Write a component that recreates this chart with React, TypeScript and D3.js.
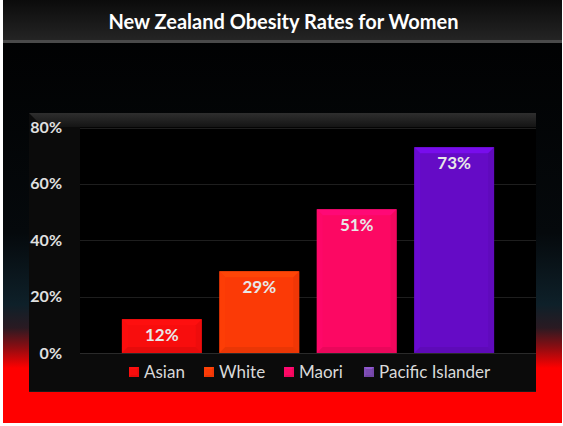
import React from "react";
import * as d3 from "d3";

const categories = ["Asian", "White", "Maori", "Pacific Islander"];
const values = [12, 29, 51, 73];
const colors = ["#f80d0d", "#fb3a06", "#fc0863", "#650bc6"];
const yTicks = [0, 20, 40, 60, 80];
const title = "New Zealand Obesity Rates for Women";

const W = 563;
const H = 426;
const FONT = "Lato, 'Open Sans', sans-serif";

export default function App() {
  const plot = { x0: 80, x1: 536, y0: 127.5, y1: 353 };
  const x = d3
    .scaleBand<string>()
    .domain(categories)
    .range([plot.x0, plot.x1])
    .paddingInner(0.18)
    .paddingOuter(0.43);
  const y = d3.scaleLinear().domain([0, 80]).range([plot.y1, plot.y0]);
  const bw = x.bandwidth();

  const lighten = (c: string, k: number) => d3.color(c)!.brighter(k).formatHex();
  const darken = (c: string, k: number) => d3.color(c)!.darker(k).formatHex();

  const bevelRect = (bx: number, by: number, w: number, h: number, c: string, b: number, key: string) => {
    const b2 = Math.min(b, h / 2);
    return (
      <g key={key}>
        <rect x={bx} y={by} width={w} height={h} fill={c} />
        <polygon
          points={`${bx},${by} ${bx + w},${by} ${bx + w - b2},${by + b2} ${bx + b2},${by + b2}`}
          fill={lighten(c, 0.6)}
          opacity={0.8}
        />
        <polygon
          points={`${bx},${by} ${bx + b2},${by + b2} ${bx + b2},${by + h - b2} ${bx},${by + h}`}
          fill={lighten(c, 0.25)}
          opacity={0.6}
        />
        <polygon
          points={`${bx + w},${by} ${bx + w},${by + h} ${bx + w - b2},${by + h - b2} ${bx + w - b2},${by + b2}`}
          fill={darken(c, 0.2)}
          opacity={0.6}
        />
        <polygon
          points={`${bx},${by + h} ${bx + w},${by + h} ${bx + w - b2},${by + h - b2} ${bx + b2},${by + h - b2}`}
          fill={darken(c, 0.3)}
          opacity={0.7}
        />
      </g>
    );
  };

  const legendX = [129, 204, 284, 364];

  return (
    <svg
      width={W}
      height={H}
      style={{ position: "absolute", left: 0, top: 0, display: "block" }}
      xmlns="http://www.w3.org/2000/svg"
    >
      <defs>
        <linearGradient id="bg" x1="0" y1="0" x2="0" y2="1">
          <stop offset="0" stopColor="#000000" />
          <stop offset="0.55" stopColor="#05090c" />
          <stop offset="0.72" stopColor="#0e2029" />
          <stop offset="0.775" stopColor="#2a1a22" />
          <stop offset="0.82" stopColor="#8a0d12" />
          <stop offset="0.87" stopColor="#ff0000" />
          <stop offset="1" stopColor="#ff0000" />
        </linearGradient>
        <linearGradient id="hdr" x1="0" y1="0" x2="0" y2="1">
          <stop offset="0" stopColor="#0b0b0b" />
          <stop offset="1" stopColor="#242424" />
        </linearGradient>
        <linearGradient id="bevelTop" x1="0" y1="0" x2="0" y2="1">
          <stop offset="0" stopColor="#2e2e2e" />
          <stop offset="1" stopColor="#141414" />
        </linearGradient>
      </defs>
      <rect x={0} y={0} width={W} height={H} fill="#ffffff" />
      <rect x={3} y={0} width={559} height={423} fill="url(#bg)" />
      <rect x={3} y={0} width={559} height={40} fill="url(#hdr)" />
      <rect x={3} y={40} width={559} height={3} fill="#4a4a4a" />
      <text
        x={W / 2 + 2}
        y={29}
        textAnchor="middle"
        fill="#ffffff"
        fontFamily={FONT}
        fontWeight="bold"
        fontSize={20}
      >
        {title}
      </text>

      <rect x={29} y={113} width={507} height={279} fill="#0b0b0b" />
      <polygon points={`29,113 536,113 536,127 43,127`} fill="url(#bevelTop)" />
      <rect x={plot.x0} y={plot.y0} width={plot.x1 - plot.x0} height={plot.y1 - plot.y0} fill="#000000" />
      <line x1={29} x2={536} y1={391.5} y2={391.5} stroke="#1a1a1a" />

      {yTicks.map((t) => (
        <line
          key={t}
          x1={plot.x0}
          x2={plot.x1}
          y1={Math.round(y(t)) + 0.5}
          y2={Math.round(y(t)) + 0.5}
          stroke={t === 0 ? "#2a2a2a" : "#1e1e1e"}
        />
      ))}
      {yTicks.map((t) => (
        <text
          key={"l" + t}
          x={62}
          y={y(t)}
          dy="0.35em"
          textAnchor="end"
          fill="#e0e0e0"
          fontFamily={FONT}
          fontWeight="bold"
          fontSize={16}
        >
          {t}%
        </text>
      ))}

      {categories.map((c, i) => {
        const bx = x(c)!;
        const by = y(values[i]);
        const h = y(0) - by;
        return (
          <g key={c}>
            {bevelRect(bx, by, bw, h, colors[i], 6, "b" + i)}
            <text
              x={bx + bw / 2}
              y={by + 22}
              textAnchor="middle"
              fill="#e8e8e8"
              fontFamily={FONT}
              fontWeight="bold"
              fontSize={17}
            >
              {values[i]}%
            </text>
          </g>
        );
      })}

      {categories.map((c, i) => (
        <g key={"lg" + c}>
          {bevelRect(legendX[i], 367, 10, 10, i === 3 ? "#7a4ab0" : colors[i], 2, "lgr" + i)}
          <text
            x={legendX[i] + 15}
            y={372}
            dy="0.35em"
            fill="#d9d9d9"
            fontFamily={FONT}
            fontSize={17}
          >
            {c}
          </text>
        </g>
      ))}
    </svg>
  );
}
